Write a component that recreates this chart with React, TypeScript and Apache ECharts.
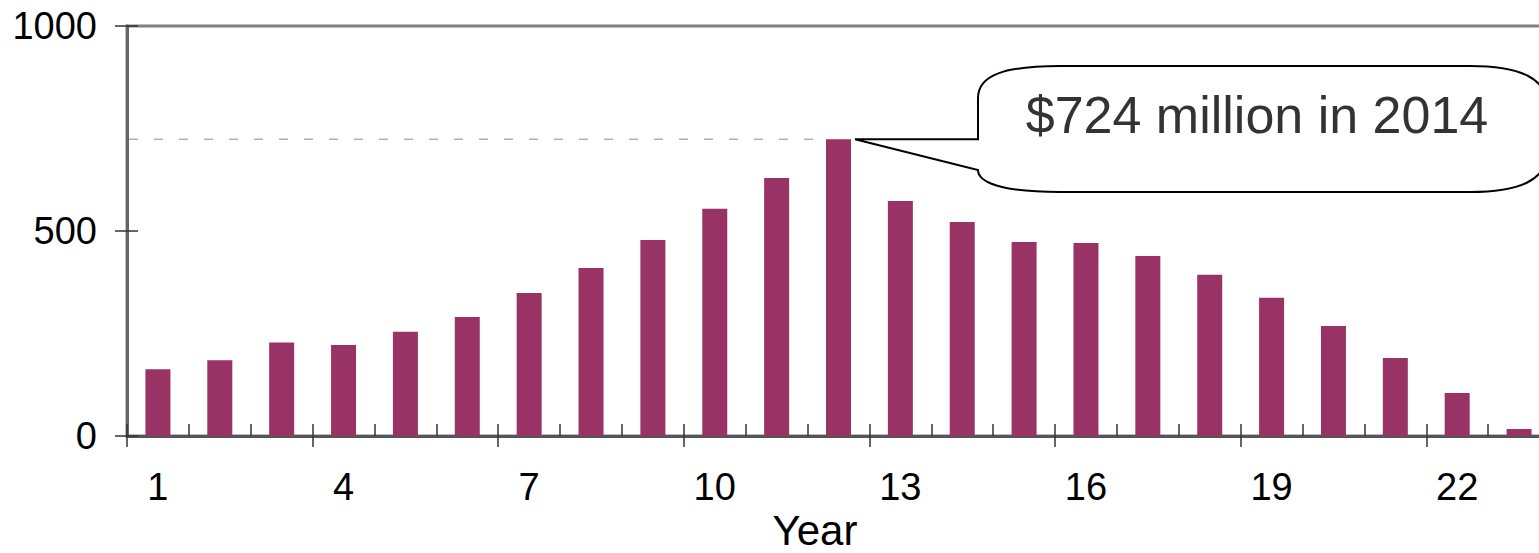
import React, { useEffect, useRef } from "react";
import * as echarts from "echarts";

const years: string[] = [
  "1", "2", "3", "4", "5", "6", "7", "8", "9", "10", "11", "12",
  "13", "14", "15", "16", "17", "18", "19", "20", "21", "22", "23",
];
const spending: number[] = [
  163, 185, 228, 222, 254, 290, 349, 410, 478, 554, 629, 724,
  573, 522, 473, 471, 439, 393, 337, 268, 190, 105, 17,
];
const yTicks = { min: 0, max: 1000, interval: 500 };
const peakIndex = 11;
const calloutText = "$724 million in 2014";
const xAxisTitle = "Year";

const FONT = "'Liberation Sans', Arial, Helvetica, sans-serif";

export default function App() {
  const ref = useRef<HTMLDivElement>(null);
  useEffect(() => {
    document.body.style.margin = "0";
    document.body.style.overflow = "hidden";
    if (!ref.current) return;
    const chart = echarts.init(ref.current, undefined, { renderer: "svg" });
    const gridLeft = 127;
    const gridTop = 26;
    const gridWidth = 1423;
    const gridHeight = 410;
    const tickStyle = { color: "#333", width: 1.5 };
    chart.setOption({
      animation: false,
      backgroundColor: "#ffffff",
      grid: {
        left: gridLeft,
        top: gridTop,
        width: gridWidth,
        height: gridHeight,
        show: true,
        borderColor: "#808080",
        borderWidth: 3,
        backgroundColor: "transparent",
      },
      xAxis: [
        {
          type: "category",
          data: years,
          position: "bottom",
          axisLine: { show: true, lineStyle: { color: "#555", width: 3 } },
          axisTick: { show: true, length: 11, lineStyle: tickStyle },
          axisLabel: {
            interval: 2,
            fontSize: 38,
            color: "#000",
            fontFamily: FONT,
            margin: 32,
          },
        },
        {
          type: "category",
          data: years,
          position: "top",
          offset: -gridHeight,
          axisLine: { show: false },
          axisTick: { show: true, length: 12, lineStyle: tickStyle },
          axisLabel: { show: false },
        },
      ],
      yAxis: [
        {
          type: "value",
          min: yTicks.min,
          max: yTicks.max,
          interval: yTicks.interval,
          position: "left",
          axisLine: { show: true, lineStyle: { color: "#666", width: 3 } },
          axisTick: { show: true, length: 12, lineStyle: tickStyle },
          splitLine: { show: false },
          axisLabel: {
            fontSize: 38,
            color: "#000",
            fontFamily: FONT,
            margin: 30,
            formatter: (v: number) => String(v),
          },
        },
        {
          type: "value",
          min: yTicks.min,
          max: yTicks.max,
          interval: yTicks.interval,
          position: "right",
          offset: -gridWidth,
          axisLine: { show: false },
          axisTick: { show: true, length: 11, lineStyle: tickStyle },
          splitLine: { show: false },
          axisLabel: { show: false },
        },
      ],
      series: [
        {
          type: "bar",
          data: spending,
          barWidth: 25,
          itemStyle: { color: "#993366" },
        },
      ],
    });

    const p = chart.convertToPixel({ gridIndex: 0 }, [peakIndex, spending[peakIndex]]) as number[];
    const barLeft = p[0] - 12.5;
    const barRight = p[0] + 12.5;
    const tx = barRight + 4;
    const ty = p[1];
    const L = 978, T = 66, B = 192, R = 1548;
    const d =
      `M ${L} ${ty} L ${tx} ${ty} L ${L} 170 ` +
      `C ${L} 182 1000 ${B} 1060 ${B} L 1470 ${B} ` +
      `C 1520 ${B} ${R} 180 ${R} 150 L ${R} 108 ` +
      `C ${R} 78 1520 ${T} 1470 ${T} L 1060 ${T} ` +
      `C 1005 ${T} ${L} 75 ${L} 98 Z`;
    echarts.graphic.registerShape("callout", (echarts.graphic as any).extendPath(d, {}));

    chart.setOption({
      graphic: [
        {
          type: "line",
          z: 100,
          shape: { x1: gridLeft + 2, y1: ty, x2: barLeft - 2, y2: ty },
          style: { stroke: "#b0b0b0", lineWidth: 1.5, lineDash: [9, 16] },
        },
        {
          type: "callout",
          z: 100,
          x: 0,
          y: 0,
          scaleX: 1,
          scaleY: 1,
          style: { fill: "#ffffff", stroke: "#000000", lineWidth: 2 },
        },
        {
          type: "text",
          z: 101,
          x: 1257,
          y: 115,
          style: {
            text: calloutText,
            fontSize: 52,
            fontFamily: FONT,
            fill: "#333333",
            align: "center",
            verticalAlign: "middle",
          },
        },
        {
          type: "text",
          z: 101,
          x: 815,
          y: 530,
          style: {
            text: xAxisTitle,
            fontSize: 42,
            fontFamily: FONT,
            fill: "#000000",
            align: "center",
            verticalAlign: "middle",
          },
        },
      ],
    });
    return () => chart.dispose();
  }, []);
  return (
    <div style={{ position: "absolute", left: 0, top: 0, width: 1539, height: 553, overflow: "hidden", background: "#fff" }}>
      <div ref={ref} style={{ width: 1560, height: 553 }} />
    </div>
  );
}
